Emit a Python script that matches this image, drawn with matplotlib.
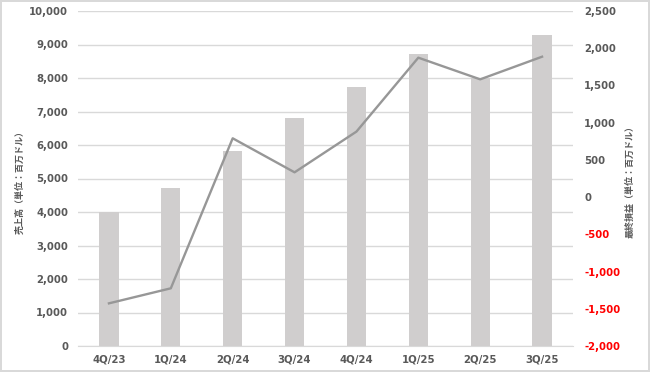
import numpy as np
import matplotlib
matplotlib.use('Agg')
import matplotlib.pyplot as plt
from matplotlib.ticker import FuncFormatter

plt.rcParams['font.family'] = ['DejaVu Sans', 'Noto Sans CJK JP']

quarters = ['4Q/23', '1Q/24', '2Q/24', '3Q/24', '4Q/24', '1Q/25', '2Q/25', '3Q/25']
revenue = [4000, 4725, 5820, 6800, 7730, 8705, 8010, 9285]
net_income = [-1427, -1225, 790, 333, 880, 1873, 1582, 1886]

txt = '#595959'
fig = plt.figure(figsize=(6.5, 3.72), dpi=100)
fig.patch.set_edgecolor('#d9d9d9')
fig.patch.set_linewidth(1.5)
ax = fig.add_axes([78/650, 1-346/372, (573-78)/650, 335/372])
ax2 = ax.twinx()

x = np.arange(len(quarters))
ax.bar(x, revenue, width=0.31, color='#d0cece', zorder=2)
ax.set_xlim(-0.5, len(quarters)-0.5)
ax.set_ylim(0, 10000)
ax.set_yticks(np.arange(0, 10001, 1000))
ax.yaxis.set_major_formatter(FuncFormatter(lambda v, p: f'{int(v):,}'))
ax.grid(axis='y', color='#d9d9d9', linewidth=1, zorder=0)
ax.set_axisbelow(True)
ax.set_xticks(x)
ax.set_xticklabels(quarters)

ax2.plot(x, net_income, color='#979797', linewidth=1.7, zorder=3)
ax2.set_ylim(-2000, 2500)
ax2.set_yticks(np.arange(-2000, 2501, 500))
ax2.yaxis.set_major_formatter(FuncFormatter(lambda v, p: f'{int(v):,}'))

for a in (ax, ax2):
    for s in a.spines.values():
        s.set_visible(False)
ax.spines['bottom'].set_visible(True)
ax.spines['bottom'].set_color('#d9d9d9')

ax.tick_params(axis='both', length=0, labelsize=7.3, labelcolor=txt)
ax.tick_params(axis='y', pad=7)
ax.tick_params(axis='x', pad=6)
ax2.tick_params(axis='y', length=0, labelsize=7.3, labelcolor=txt, pad=8)
for lab in ax.get_xticklabels() + ax.get_yticklabels() + ax2.get_yticklabels():
    lab.set_fontweight('bold')
for lab, v in zip(ax2.get_yticklabels(), np.arange(-2000, 2501, 500)):
    if v < 0:
        lab.set_color('#ff0000')

fig.text(20/650, 1-180/372, '売上高（単位：百万ドル）', rotation=90, ha='center', va='center',
         fontsize=6.5, color=txt, fontweight='bold', family=['Noto Sans CJK JP', 'DejaVu Sans'])
fig.text(630/650, 1-180/372, '最終損益（単位：百万ドル）', rotation=90, ha='center', va='center',
         fontsize=6.5, color=txt, fontweight='bold', family=['Noto Sans CJK JP', 'DejaVu Sans'])

fig.savefig('out.png', dpi=100, edgecolor=fig.get_edgecolor())
